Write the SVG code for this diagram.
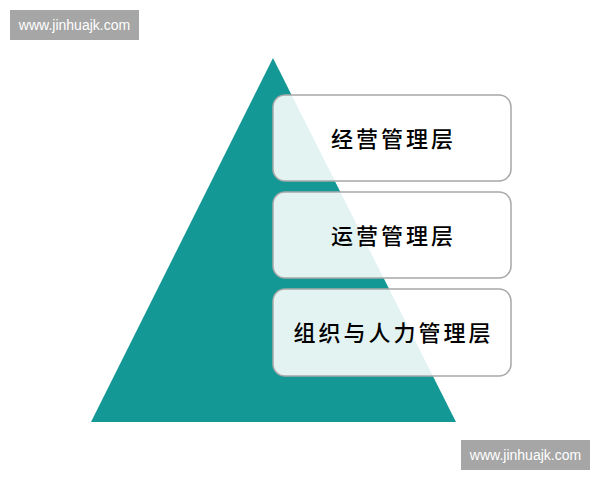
<svg xmlns="http://www.w3.org/2000/svg" width="600" height="480" viewBox="0 0 600 480">
<style>
.wm{fill:#a6a6a6}
.wmt{fill:#ffffff;font-family:"Liberation Sans",Arial,sans-serif;font-size:14px;text-anchor:middle;dominant-baseline:central}
.box{fill:#ffffff;fill-opacity:0.88;stroke:#a8a8a8;stroke-width:1.5}
.lbl{fill:#000000;font-family:"Noto Sans CJK SC","Noto Sans CJK TC",serif;font-size:22px;font-weight:500;letter-spacing:3px;text-anchor:middle;dominant-baseline:central}
</style>
<rect width="600" height="480" fill="#ffffff"/>
<g id="watermark-top">
<rect class="wm" x="10" y="10" width="129" height="30"/>
<text class="wmt" x="74.5" y="25">www.jinhuajk.com</text>
</g>
<g id="pyramid">
<polygon points="273,58 456,422 91,422" fill="#139896"/>
</g>
<g id="connectors"></g>
<g id="node-1">
<rect class="box" x="273" y="95" width="238" height="86" rx="12"/>
<text class="lbl" x="393.5" y="137">经营管理层</text>
</g>
<g id="node-2">
<rect class="box" x="273" y="192" width="238" height="86" rx="12"/>
<text class="lbl" x="393.5" y="234">运营管理层</text>
</g>
<g id="node-3">
<rect class="box" x="273" y="289" width="238" height="87" rx="12"/>
<text class="lbl" x="393.5" y="331">组织与人力管理层</text>
</g>
<g id="watermark-bottom">
<rect class="wm" x="461" y="440" width="129" height="30"/>
<text class="wmt" x="525.5" y="455">www.jinhuajk.com</text>
</g>
</svg>
